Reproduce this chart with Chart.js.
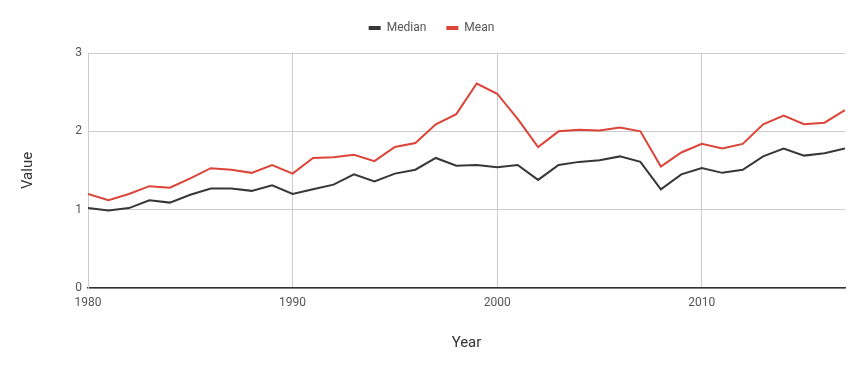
<!DOCTYPE html>
<html>
<head>
<meta charset="utf-8">
<script src="https://cdn.jsdelivr.net/npm/chart.js@4"></script>
<style>
    html, body { margin: 0; padding: 0; background: #fff; }
    #wrap { width: 863px; height: 371px; }
</style>
</head>
<body>
<div id="wrap"><canvas id="valueChart" width="863" height="371"></canvas></div>
<script>
const years = [1980, 1981, 1982, 1983, 1984, 1985, 1986, 1987, 1988, 1989,
    1990, 1991, 1992, 1993, 1994, 1995, 1996, 1997, 1998, 1999,
    2000, 2001, 2002, 2003, 2004, 2005, 2006, 2007, 2008, 2009,
    2010, 2011, 2012, 2013, 2014, 2015, 2016, 2017];
const median = [1.02, 0.99, 1.02, 1.12, 1.09, 1.19, 1.27, 1.27, 1.24, 1.31,
    1.20, 1.26, 1.32, 1.45, 1.36, 1.46, 1.51, 1.66, 1.56, 1.57,
    1.54, 1.57, 1.38, 1.57, 1.61, 1.63, 1.68, 1.61, 1.26, 1.45,
    1.53, 1.47, 1.51, 1.68, 1.78, 1.69, 1.72, 1.78];
const mean = [1.20, 1.12, 1.20, 1.30, 1.28, 1.40, 1.53, 1.51, 1.47, 1.57,
    1.46, 1.66, 1.67, 1.70, 1.62, 1.80, 1.85, 2.09, 2.22, 2.61,
    2.48, 2.16, 1.80, 2.00, 2.02, 2.01, 2.05, 2.00, 1.55, 1.73,
    1.84, 1.78, 1.84, 2.09, 2.20, 2.09, 2.11, 2.27];
const xTicks = [1980, 1990, 2000, 2010];
const yTicks = [0, 1, 2, 3];

const font = 'Roboto';

// push the plot area down under the legend
const legendGap = {
    id: 'legendGap',
    beforeInit(chart) {
        const fit = chart.legend.fit;
        chart.legend.fit = function() {
            fit.bind(chart.legend)();
            this.height += 9;
        };
    }
};

new Chart(document.getElementById('valueChart'), {
    type: 'line',
    data: {
        labels: years,
        datasets: [{
            label: 'Median',
            data: years.map((y, i) => ({x: y, y: median[i]})),
            borderColor: '#373737',
            backgroundColor: '#373737',
            borderWidth: 2,
            pointRadius: 0,
            tension: 0
        }, {
            label: 'Mean',
            data: years.map((y, i) => ({x: y, y: mean[i]})),
            borderColor: '#db4437',
            backgroundColor: '#db4437',
            borderWidth: 2,
            pointRadius: 0,
            tension: 0
        }]
    },
    options: {
        responsive: false,
        animation: false,
        layout: { padding: { left: 0, right: 0, top: 2, bottom: 0 } },
        plugins: {
            tooltip: { enabled: false },
            legend: {
                position: 'top',
                labels: {
                    boxWidth: 12,
                    boxHeight: 4,
                    padding: 20,
                    color: '#555',
                    font: { family: font, size: 12 },
                    generateLabels: function(chart) {
                        return Chart.defaults.plugins.legend.labels.generateLabels(chart)
                            .map(l => ({...l, lineWidth: 0}));
                    }
                }
            }
        },
        scales: {
            x: {
                type: 'linear',
                min: 1980,
                max: 2017,
                afterBuildTicks: s => { s.ticks = xTicks.map(v => ({value: v})); },
                afterFit: s => { s.height = 83; s.paddingLeft = 0; s.paddingRight = 18; },
                ticks: {
                    autoSkip: false,
                    maxRotation: 0,
                    padding: 8,
                    color: '#555',
                    font: { family: font, size: 12 },
                    callback: v => String(v)
                },
                grid: { color: '#cccccc', drawTicks: false },
                border: { color: '#333', width: 1.5 },
                title: {
                    display: true,
                    text: 'Year',
                    color: '#333',
                    font: { family: font, size: 15 },
                    padding: { top: 0, bottom: 19 }
                }
            },
            y: {
                min: 0,
                max: 3,
                afterBuildTicks: s => { s.ticks = yTicks.map(v => ({value: v})); },
                afterFit: s => { s.width = 88; },
                ticks: {
                    padding: 6,
                    color: '#555',
                    font: { family: font, size: 12 }
                },
                grid: { color: '#cccccc', drawTicks: false },
                border: { color: '#cccccc' },
                title: {
                    display: true,
                    text: 'Value',
                    color: '#333',
                    font: { family: font, size: 15 },
                    padding: { top: 19, bottom: 0 }
                }
            }
        }
    },
    plugins: [legendGap]
});
</script>
</body>
</html>
